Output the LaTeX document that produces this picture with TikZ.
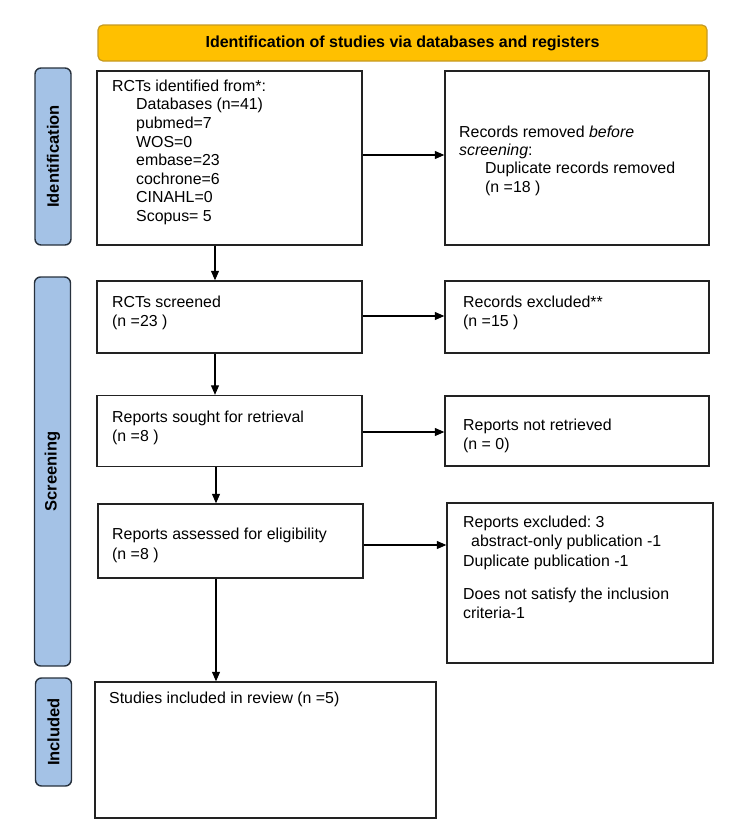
\documentclass[tikz,border=0pt]{standalone}
\usepackage{fontspec}
\setmainfont{Liberation Sans}
\usetikzlibrary{arrows.meta}
\definecolor{bannerfill}{HTML}{FFC000}
\definecolor{bannerdraw}{HTML}{C69A22}
\definecolor{sidefill}{HTML}{A4C2E6}
\definecolor{sidedraw}{HTML}{27313D}
\definecolor{boxdraw}{HTML}{222222}
\newcommand\firstln{\rule{0pt}{12pt}}
\frenchspacing
\begin{document}
\begin{tikzpicture}[x=1pt,y=-1pt,
  box/.style={draw=boxdraw,line width=1.4pt,fill=white,inner sep=0pt,anchor=center},
  txt/.style={anchor=north west,inner sep=0pt,align=left},
  arr/.style={draw=black,line width=1.1pt,-{Triangle[length=9.5pt,width=8pt]}},
  side/.style={draw=sidedraw,fill=sidefill,line width=1.4pt,rounded corners=6pt,inner sep=0pt,
    rotate=90,minimum height=36pt,font=\fontsize{16.5}{18}\selectfont\bfseries},
  banner/.style={draw=bannerdraw,fill=bannerfill,line width=1.2pt,rounded corners=5pt,inner sep=0pt,
    minimum width=609pt,minimum height=36pt,font=\fontsize{16}{18}\selectfont\bfseries}
]
\useasboundingbox (0,0) rectangle (729,825);

% banner and side labels
\node[banner] (ban) at (402.5,43) {Identification of studies via databases and registers};
\node[side,minimum width=177pt] (sid) at (53,156.5) {Identification};
\node[side,minimum width=389pt] (sscr) at (52.5,471.5) {Screening};
\node[side,minimum width=108pt] (sinc) at (53.5,732) {Included};

% boxes
\node[box,minimum width=265pt,minimum height=174pt] (b1) at (229.5,158) {};
\node[box,minimum width=264pt,minimum height=174pt] (b2) at (577,158) {};
\node[box,minimum width=265pt,minimum height=72pt] (b3) at (229.5,317) {};
\node[box,minimum width=264pt,minimum height=72pt] (bx) at (577,317) {};
\node[box,minimum width=265pt,minimum height=71pt] (b4) at (229.5,431) {};
\node[box,minimum width=264pt,minimum height=70pt] (b5) at (577,431) {};
\node[box,minimum width=265pt,minimum height=74pt] (b6) at (230.5,541) {};
\node[box,minimum width=266pt,minimum height=160pt] (b7) at (580,583) {};
\node[box,minimum width=341pt,minimum height=136pt] (b8) at (265.5,750) {};

% texts
\node[txt,font=\fontsize{15.9}{18.6}\selectfont] (t1) at (112,79) {\firstln RCTs identified from*:\\
\hspace*{24pt}Databases (n=41)\\
\hspace*{24pt}pubmed=7\\
\hspace*{24pt}WOS=0\\
\hspace*{24pt}embase=23\\
\hspace*{24pt}cochrone=6\\
\hspace*{24pt}CINAHL=0\\
\hspace*{24pt}Scopus= 5};
\node[txt,font=\fontsize{15.9}{18.3}\selectfont] (t2) at (459,125) {\firstln Records removed \textit{before}\\
\textit{screening}:\\
\hspace*{26pt}Duplicate records removed\\
\hspace*{26pt}(n =18 )};
\node[txt,font=\fontsize{15.9}{19}\selectfont] (t3) at (112,295) {\firstln RCTs screened\\(n =23 )};
\node[txt,font=\fontsize{15.9}{19}\selectfont] (tx) at (463,295) {\firstln Records excluded**\\(n =15 )};
\node[txt,font=\fontsize{15.9}{19}\selectfont] (t4) at (112,410.5) {\firstln Reports sought for retrieval\\(n =8 )};
\node[txt,font=\fontsize{15.9}{19}\selectfont] (t5) at (463,418) {\firstln Reports not retrieved\\(n = 0)};
\node[txt,font=\fontsize{15.9}{20}\selectfont] (t6) at (112,527) {\firstln Reports assessed for eligibility\\(n =8 )};
\node[txt,font=\fontsize{15.9}{19.5}\selectfont] (t7) at (463,515) {\firstln Reports excluded: 3\\
\hspace*{8pt}abstract-only publication -1\\
Duplicate publication -1\\[13.5pt]
Does not satisfy the inclusion\\
criteria-1};
\node[txt,font=\fontsize{15.9}{18}\selectfont] (t8) at (109,691) {\firstln Studies included in review (n =5)};

% horizontal connectors
\coordinate (a1) at ([yshift=3pt]b1.east);
\draw[arr] (a1) -- (a1 -| b2.west);
\coordinate (a3) at ([yshift=1pt]b3.east);
\draw[arr] (a3) -- (a3 -| bx.west);
\coordinate (a4) at ([yshift=-1pt]b4.east);
\draw[arr] (a4) -- (a4 -| b5.west);
\coordinate (a6) at ([yshift=-4pt]b6.east);
\draw[arr] (a6) -- (a6 -| b7.west);

% vertical connectors
\draw[arr] ([xshift=-14.5pt]b1.south) -- ([xshift=-14.5pt]b3.north);
\draw[arr] ([xshift=-14.5pt]b3.south) -- ([xshift=-14.5pt]b4.north);
\draw[arr] ([xshift=-13.5pt]b4.south) -- ([xshift=-14.5pt]b6.north);
\draw[arr] ([xshift=-14.5pt]b6.south) -- ([xshift=-49.5pt]b8.north);
\end{tikzpicture}
\end{document}
